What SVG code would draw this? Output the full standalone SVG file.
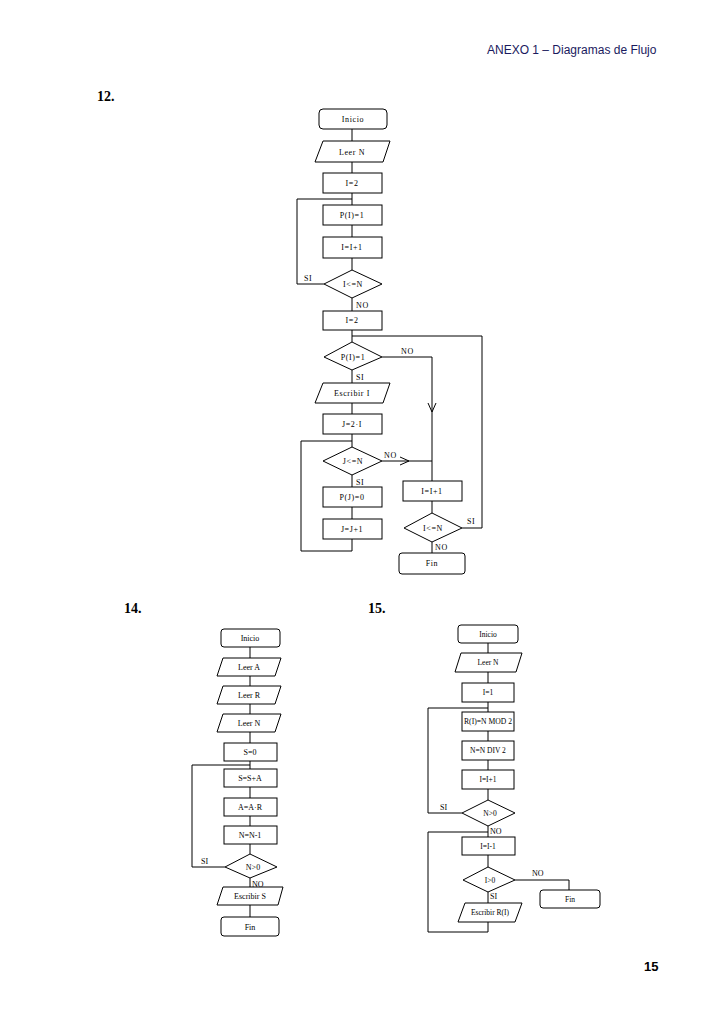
<svg xmlns="http://www.w3.org/2000/svg" width="728" height="1030" viewBox="0 0 728 1030">
<style>
.n{fill:#fff;stroke:#000;stroke-width:1}
.c{fill:none;stroke:#000;stroke-width:1}
.t{font-family:"Liberation Serif",serif;font-size:8px;fill:#000;text-anchor:middle}
.s{letter-spacing:0.6px}
.u{font-size:7.5px}
.l{font-family:"Liberation Serif",serif;font-size:8px;fill:#000}
.h{font-family:"Liberation Serif",serif;font-size:14px;font-weight:bold;fill:#000}
</style>
<rect width="728" height="1030" fill="#fff"/>
<text x="487" y="54" style="font-family:'Liberation Sans',sans-serif;font-size:12px;fill:#1a1a5e">ANEXO 1 – Diagramas de Flujo</text>
<text x="97" y="101" class="h">12.</text>
<text x="124" y="613" class="h">14.</text>
<text x="368" y="613" class="h">15.</text>
<text x="644" y="971" style="font-family:'Liberation Sans',sans-serif;font-size:13px;font-weight:bold;fill:#000">15</text>

<g id="connectors">
<!-- diagram 12 -->
<path class="c" d="M352 129V141M352 162V173M352 193V205M352 225V237M352 258V270"/>
<path class="c" d="M324 284H297V199H352"/>
<path class="c" d="M352 298V311M352 330V342M352 370V383M352 403V414M352 434V447M352 475V487M352 507V519"/>
<path class="c" d="M352 336H482V528H462"/>
<path class="c" d="M382 357H432V481"/>
<path class="c" d="M428 403L432 412L436 403"/>
<path class="c" d="M382 461H432"/>
<path class="c" d="M400 457L409 461L400 465"/>
<path class="c" d="M352 539V551H301V441H352"/>
<path class="c" d="M432 501V513M432 542V553"/>
<!-- diagram 14 -->
<path class="c" d="M250 647V658M250 676V686M250 704V714M250 732V743M250 761V769M250 787V798M250 816V826M250 844V854M250 878V887M250 905V917"/>
<path class="c" d="M225 867H192V765H250"/>
<!-- diagram 15 -->
<path class="c" d="M488 643V653M488 672V683M488 702V712M488 731V741M488 760V770M488 789V800M488 826V837M488 855V867M488 892V903"/>
<path class="c" d="M462 813H428V708H488"/>
<path class="c" d="M488 922V932H428V832H488"/>
<path class="c" d="M515 880H569V890"/>
</g>

<g id="d12">
<g id="n12-inicio"><rect class="n" x="319" y="109" width="68" height="20" rx="4"/><text class="t s" x="353" y="122">Inicio</text></g>
<g id="n12-leer"><polygon class="n" points="323,141 390,141 383,162 315,162"/><text class="t s" x="352" y="155">Leer N</text></g>
<g id="n12-i2a"><rect class="n" x="323" y="173" width="59" height="20"/><text class="t s" x="352" y="186">I=2</text></g>
<g id="n12-pi1"><rect class="n" x="323" y="205" width="59" height="20"/><text class="t s" x="352" y="218">P(I)=1</text></g>
<g id="n12-inc"><rect class="n" x="323" y="237" width="59" height="21"/><text class="t s" x="352" y="250">I=I+1</text></g>
<g id="n12-d1"><polygon class="n" points="352,270 382,284 352,298 324,284"/><text class="t s" x="353" y="287">I&lt;=N</text></g>
<g id="n12-i2b"><rect class="n" x="323" y="311" width="59" height="19"/><text class="t s" x="352" y="323">I=2</text></g>
<g id="n12-d2"><polygon class="n" points="352,342 382,357 352,370 324,357"/><text class="t s" x="353" y="360">P(I)=1</text></g>
<g id="n12-esc"><polygon class="n" points="323,383 390,383 383,403 315,403"/><text class="t s" x="352" y="396">Escribir I</text></g>
<g id="n12-j2i"><rect class="n" x="323" y="414" width="59" height="20"/><text class="t s" x="352" y="427">J=2·I</text></g>
<g id="n12-d3"><polygon class="n" points="352,447 382,461 352,475 323,461"/><text class="t s" x="353" y="464">J&lt;=N</text></g>
<g id="n12-pj0"><rect class="n" x="323" y="487" width="59" height="20"/><text class="t s" x="352" y="500">P(J)=0</text></g>
<g id="n12-jinc"><rect class="n" x="323" y="519" width="59" height="20"/><text class="t s" x="352" y="532">J=J+1</text></g>
<g id="n12-iinc"><rect class="n" x="403" y="481" width="59" height="20"/><text class="t s" x="432" y="494">I=I+1</text></g>
<g id="n12-d4"><polygon class="n" points="432,513 462,528 432,542 404,528"/><text class="t s" x="433" y="531">I&lt;=N</text></g>
<g id="n12-fin"><rect class="n" x="399" y="553" width="66" height="21" rx="3"/><text class="t s" x="432" y="566">Fin</text></g>
<text class="l s" x="304" y="281">SI</text>
<text class="l s" x="356" y="308">NO</text>
<text class="l s" x="401" y="354">NO</text>
<text class="l s" x="356" y="380">SI</text>
<text class="l s" x="384" y="458">NO</text>
<text class="l s" x="356" y="485">SI</text>
<text class="l s" x="467" y="524">SI</text>
<text class="l s" x="435" y="550">NO</text>
</g>

<g id="d14">
<g id="n14-inicio"><rect class="n" x="221" y="629" width="59" height="18" rx="3"/><text class="t" x="250" y="641">Inicio</text></g>
<g id="n14-leera"><polygon class="n" points="223,658 281,658 275,676 217,676"/><text class="t" x="249" y="670">Leer A</text></g>
<g id="n14-leerr"><polygon class="n" points="223,686 281,686 275,704 217,704"/><text class="t" x="249" y="698">Leer R</text></g>
<g id="n14-leern"><polygon class="n" points="223,714 281,714 275,732 217,732"/><text class="t" x="249" y="726">Leer N</text></g>
<g id="n14-s0"><rect class="n" x="224" y="743" width="53" height="18"/><text class="t" x="250" y="755">S=0</text></g>
<g id="n14-ssa"><rect class="n" x="224" y="769" width="53" height="18"/><text class="t" x="250" y="781">S=S+A</text></g>
<g id="n14-aar"><rect class="n" x="224" y="798" width="53" height="18"/><text class="t" x="250" y="810">A=A·R</text></g>
<g id="n14-nn1"><rect class="n" x="224" y="826" width="53" height="18"/><text class="t" x="250" y="838">N=N-1</text></g>
<g id="n14-d"><polygon class="n" points="250,854 277,867 250,878 225,867"/><text class="t" x="253" y="870">N&gt;0</text></g>
<g id="n14-esc"><polygon class="n" points="223,887 283,887 278,905 217,905"/><text class="t" x="250" y="899">Escribir S</text></g>
<g id="n14-fin"><rect class="n" x="221" y="917" width="58" height="19" rx="3"/><text class="t" x="250" y="930">Fin</text></g>
<text class="l" x="201" y="864">SI</text>
<text class="l" x="252" y="887">NO</text>
</g>

<g id="d15">
<g id="n15-inicio"><rect class="n" x="458" y="625" width="60" height="18" rx="3"/><text class="t u" x="488" y="637">Inicio</text></g>
<g id="n15-leer"><polygon class="n" points="461,653 522,653 516,672 455,672"/><text class="t u" x="488" y="665">Leer N</text></g>
<g id="n15-i1"><rect class="n" x="462" y="683" width="52" height="19"/><text class="t u" x="488" y="695">I=1</text></g>
<g id="n15-mod"><rect class="n" x="462" y="712" width="52" height="19"/><text class="t u" x="488" y="724" textLength="48" lengthAdjust="spacingAndGlyphs">R(I)=N MOD 2</text></g>
<g id="n15-div"><rect class="n" x="462" y="741" width="52" height="19"/><text class="t u" x="488" y="753">N=N DIV 2</text></g>
<g id="n15-inc"><rect class="n" x="462" y="770" width="52" height="19"/><text class="t u" x="488" y="782">I=I+1</text></g>
<g id="n15-d1"><polygon class="n" points="488,800 515,813 488,826 462,813"/><text class="t u" x="490" y="816">N&gt;0</text></g>
<g id="n15-dec"><rect class="n" x="462" y="837" width="53" height="18"/><text class="t u" x="488" y="849">I=I-1</text></g>
<g id="n15-d2"><polygon class="n" points="488,867 515,880 488,892 463,880"/><text class="t u" x="490" y="883">I&gt;0</text></g>
<g id="n15-esc"><polygon class="n" points="465,903 522,903 515,922 458,922"/><text class="t u" x="490" y="915">Escribir R(I)</text></g>
<g id="n15-fin"><rect class="n" x="540" y="890" width="60" height="18" rx="3"/><text class="t u" x="570" y="902">Fin</text></g>
<text class="l" x="440" y="810">SI</text>
<text class="l" x="490" y="834">NO</text>
<text class="l" x="532" y="876">NO</text>
<text class="l" x="490" y="899">SI</text>
</g>
</svg>
